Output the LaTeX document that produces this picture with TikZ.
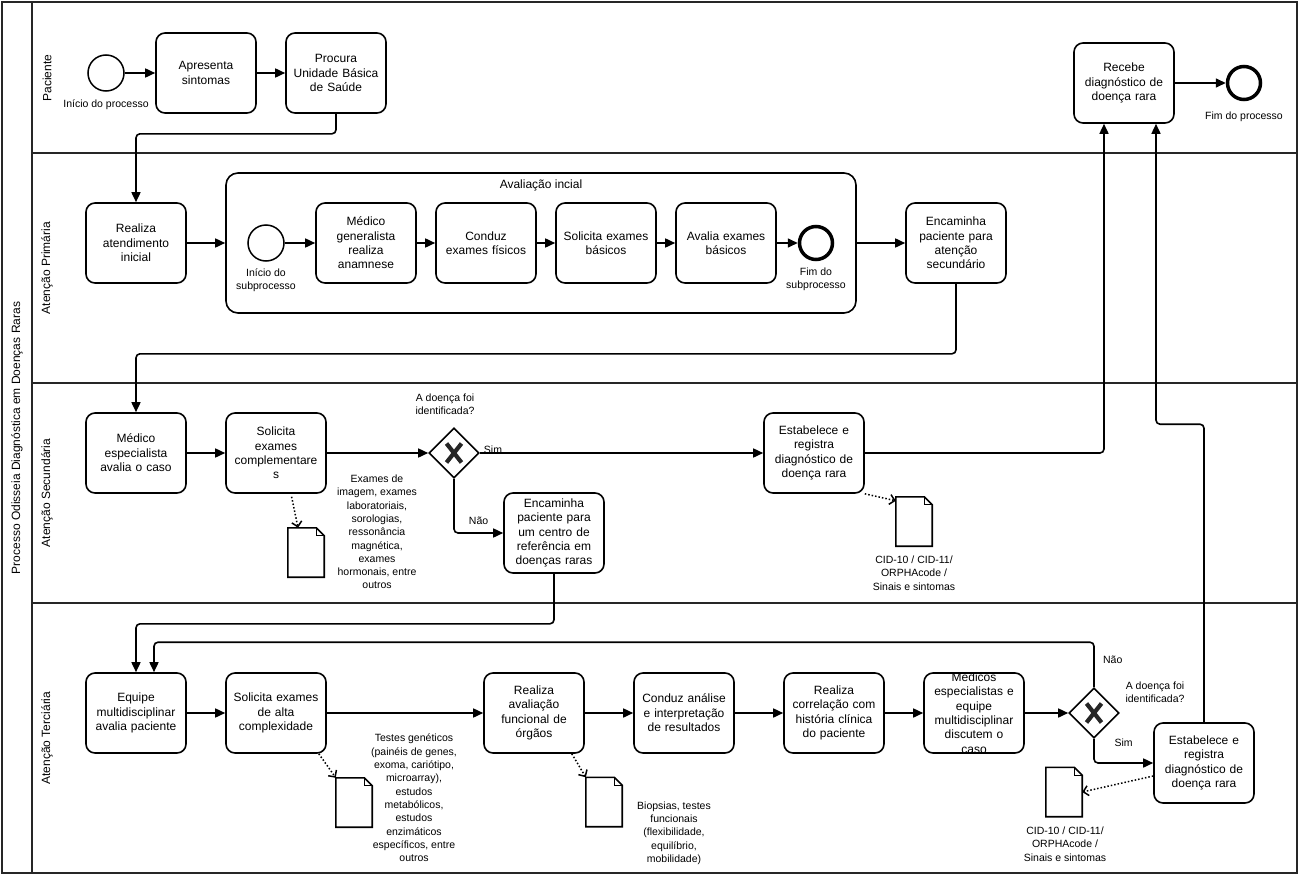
\documentclass[tikz,border=0pt]{standalone}
\usepackage{fontspec}
\setmainfont{Liberation Sans}
\usetikzlibrary{arrows.meta}
\usetikzlibrary{shapes.geometric}

\tikzset{
  task/.style={draw, rounded corners=9pt, line width=1.6pt, minimum width=100pt, minimum height=80pt,
    text width=96pt, align=center, inner sep=0pt, font=\fontsize{12}{14.4}\selectfont},
  startev/.style={draw, circle, line width=1.5pt, minimum size=36pt, inner sep=0pt},
  endev/.style={draw, circle, line width=3.5pt, minimum size=33pt, inner sep=0pt},
  gate/.style={draw, diamond, line width=1.6pt, minimum size=50pt, inner sep=0pt,
    path picture={
      \draw[line width=4.2pt, black!85] ([xshift=-7.5pt,yshift=9.5pt]path picture bounding box.center)
        -- ([xshift=7.5pt,yshift=-9.5pt]path picture bounding box.center);
      \draw[line width=4.2pt, black!85] ([xshift=7.5pt,yshift=9.5pt]path picture bounding box.center)
        -- ([xshift=-7.5pt,yshift=-9.5pt]path picture bounding box.center);
    }},
  flow/.style={line width=1.6pt, rounded corners=4pt, -{Triangle[length=10pt,width=9pt]}},
  assoc/.style={line width=1.5pt, dotted, -{Straight Barb[length=5pt,width=10pt]}},
  docobj/.style={minimum width=36pt, minimum height=49pt, inner sep=0pt},
  evlabel/.style={font=\fontsize{10.5}{13}\selectfont, align=center},
  flowlabel/.style={font=\fontsize{10.5}{13}\selectfont},
  note/.style={font=\fontsize{10.5}{13.3}\selectfont, align=center},
  lane/.style={line width=1.6pt, draw=black!85},
  lanetitle/.style={rotate=90, font=\fontsize{12}{14}\selectfont},
}

\begin{document}
\begin{tikzpicture}[x=1pt,y=-1pt]
\useasboundingbox (0,0) rectangle (1299,878);

%================ POOL AND LANES ==================
\draw[lane] (2,2) rectangle (1297,873);
\draw[lane] (32,2) -- (32,873);
\foreach \y in {153,383,603} {
  \draw[lane] (32,\y) -- (1297,\y);
}
\node[lanetitle] (pool) at (17,438) {Processo Odisseia Diagnóstica em Doenças Raras};
\node[lanetitle] (lpac) at (47,78) {Paciente};
\node[lanetitle] (lpri) at (47,268) {Atenção Primária};
\node[lanetitle] (lsec) at (47,493) {Atenção Secundária};
\node[lanetitle] (lter) at (47,738) {Atenção Terciária};

%================ PACIENTE ==================
\node[startev, label={[evlabel,label distance=4pt]below:Início do processo}] (ini) at (106,73) {};
\node[task] (apr) at (206,73) {Apresenta\\sintomas};
\node[task] (proc) at (336,73) {Procura\\Unidade Básica\\de Saúde};
\node[task] (rec) at (1124,83) {Recebe\\diagnóstico de\\doença rara};
\node[endev, label={[evlabel,label distance=7pt]below:Fim do processo}] (fim) at (1244,83) {};

%================ ATENCAO PRIMARIA ==================
\node[task] (rai) at (136,243) {Realiza\\atendimento\\inicial};

% subprocess box
\node[draw, rounded corners=12pt, line width=1.6pt, minimum width=630pt, minimum height=140pt,
  label={[font=\fontsize{12}{14.4}\selectfont, anchor=north, yshift=-4pt]north:Avaliação incial}] (sub) at (541,243) {};
\node[startev, label={[evlabel,label distance=3pt]below:{Início do\\subprocesso}}] (sini) at (266,243) {};
\node[task] (med) at (366,243) {Médico\\generalista\\realiza\\anamnese};
\node[task] (cond) at (486,243) {Conduz\\exames físicos};
\node[task] (solb) at (606,243) {Solicita exames\\básicos};
\node[task] (avb) at (726,243) {Avalia exames\\básicos};
\node[endev, label={[evlabel,label distance=3pt]below:{Fim do\\subprocesso}}] (sfim) at (816,243) {};

\node[task] (enc1) at (956,243) {Encaminha\\paciente para\\atenção\\secundário};

%================ ATENCAO SECUNDARIA ==================
\node[task] (mesp) at (136,453) {Médico\\especialista\\avalia o caso};
\node[task] (solc) at (276,453) {Solicita\\exames\\complementare\\s};
\node[gate, label={[evlabel,xshift=-9pt,yshift=49pt]center:{A doença foi\\identificada?}}] (gw1) at (454,453) {};
\node[task] (est1) at (814,453) {Estabelece e\\registra\\diagnóstico de\\doença rara};
\node[task] (enc2) at (554,533) {Encaminha\\paciente para\\um centro de\\referência em\\doenças raras};

\node[docobj] (docA) at (306,552.5) {};
\node[note] (notA) at (377,532) {Exames de\\imagem, exames\\laboratoriais,\\sorologias,\\ressonância\\magnética,\\exames\\hormonais, entre\\outros};
\node[docobj] (docB) at (914,521.5) {};
\node[note] (notB) at (914,573) {CID-10 / CID-11/\\ORPHAcode /\\Sinais e sintomas};

%================ ATENCAO TERCIARIA ==================
\node[task] (eqp) at (136,713) {Equipe\\multidisciplinar\\avalia paciente};
\node[task] (sola) at (276,713) {Solicita exames\\de alta\\complexidade};
\node[task] (rfo) at (534,713) {Realiza\\avaliação\\funcional de\\órgãos};
\node[task] (cana) at (684,713) {Conduz análise\\e interpretação\\de resultados};
\node[task] (rcor) at (834,713) {Realiza\\correlação com\\história clínica\\do paciente};
% text runs out of the box here
\node[task] (mdis) at (974,713) {\smash{\raisebox{-3pt}{\parbox[c]{96pt}{\centering Médicos\\especialistas e\\equipe\\multidisciplinar\\discutem o\\caso}}}};
\node[gate, label={[evlabel,xshift=61pt,yshift=21pt]center:{A doença foi\\identificada?}}] (gw2) at (1094,713) {};
\node[task] (est2) at (1204,763) {Estabelece e\\registra\\diagnóstico de\\doença rara};

\node[docobj] (docC) at (354,802.5) {};
\node[note] (notC) at (414,798) {Testes genéticos\\(painéis de genes,\\exoma, cariótipo,\\microarray),\\estudos\\metabólicos,\\estudos\\enzimáticos\\específicos, entre\\outros};
\node[docobj] (docD) at (604,802) {};
\node[note] (notD) at (674,833) {Biopsias, testes\\funcionais\\(flexibilidade,\\equilíbrio,\\mobilidade)};
\node[docobj] (docE) at (1064,792) {};
\node[note] (notE) at (1065,844) {CID-10 / CID-11/\\ORPHAcode /\\Sinais e sintomas};

% data objects (folded page)
\foreach \d in {docA,docB,docC,docD,docE} {
  \draw[line width=1.6pt] (\d.north west) -- ([xshift=-8pt]\d.north east) -- ([yshift=-8pt]\d.north east)
    -- (\d.south east) -- (\d.south west) -- cycle;
  \draw[line width=1.2pt] ([xshift=-8pt]\d.north east) |- ([yshift=-8pt]\d.north east);
}

%================ SEQUENCE FLOWS ==================
\draw[flow] (ini) -- (apr);
\draw[flow] (apr) -- (proc);
\draw[flow] (proc.south) -- ++(0,20) -| (rai.north);
\draw[flow] (rai) -- (sub);
\draw[flow] (sini) -- (med);
\draw[flow] (med) -- (cond);
\draw[flow] (cond) -- (solb);
\draw[flow] (solb) -- (avb);
\draw[flow] (avb) -- (sfim);
\draw[flow] (sub) -- (enc1);
\draw[flow] (enc1.south) -- ++(0,70) -| (mesp.north);

\draw[flow] (mesp) -- (solc);
\draw[flow] (solc) -- (gw1);
\draw[flow] (gw1) -- node[flowlabel, pos=0, anchor=south west, yshift=-5pt] {Sim} (est1);
\draw[flow] (gw1.south) |- node[flowlabel, pos=0.75, anchor=south, yshift=4pt] {Não} (enc2);
\draw[flow] (est1.east) -| ([xshift=-20pt]rec.south);
\draw[flow] (enc2.south) -- ++(0,50) -| (eqp.north);

\draw[flow] (eqp) -- (sola);
\draw[flow] (sola) -- (rfo);
\draw[flow] (rfo) -- (cana);
\draw[flow] (cana) -- (rcor);
\draw[flow] (rcor) -- (mdis);
\draw[flow] (mdis) -- (gw2);
\draw[flow] (gw2.north) -- node[flowlabel, pos=0.6, right, xshift=5pt] {Não} ++(0,-45) -| ([xshift=18pt]eqp.north);
\draw[flow] (gw2.south) |- node[flowlabel, pos=0.75, anchor=south, yshift=12pt] {Sim} (est2);
\draw[flow] (est2.north) -- ++(0,-298) -| ([xshift=32pt]rec.south);
\draw[flow] (rec) -- (fim);

%================ ASSOCIATIONS ==================
\draw[assoc, shorten <=3pt] ([xshift=15pt]solc.south) -- ([xshift=-8pt]docA.north);
\draw[assoc] (est1.south east) -- ([yshift=-4pt]docB.north west);
\draw[assoc] ([xshift=-8pt]sola.south east) -- (docC.north west);
\draw[assoc] ([xshift=-13pt]rfo.south east) -- (docD.north west);
\draw[assoc] ([yshift=-13pt]est2.west) -- (docE.east);

\end{tikzpicture}
\end{document}
